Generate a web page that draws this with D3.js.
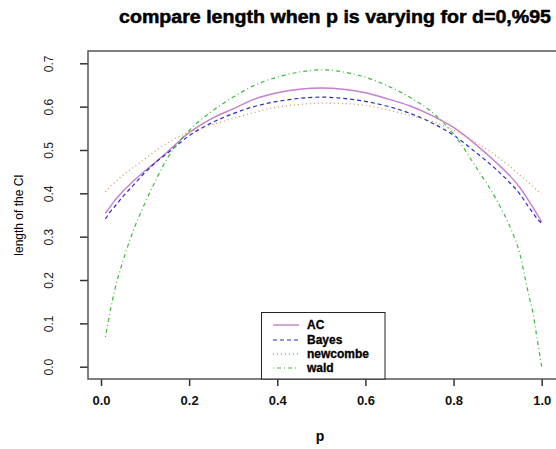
<!DOCTYPE html>
<html>
<head>
<meta charset="utf-8">
<script src="https://cdn.jsdelivr.net/npm/d3@7"></script>
<style>
  body { margin: 0; background: #fff; }
  svg { display: block; }
</style>
</head>
<body>
<svg width="556" height="449"></svg>
<script>
// p grid shared by every method
const pValues = [0.01, 0.02, 0.03, 0.05, 0.07, 0.1, 0.125, 0.15, 0.2, 0.25, 0.3, 0.35, 0.4, 0.45, 0.5,
    0.55, 0.6, 0.65, 0.7, 0.75, 0.8, 0.85, 0.9, 0.93, 0.95, 0.97, 0.98, 0.99, 1.0];

const acLen = [0.354, 0.368, 0.382, 0.405, 0.425, 0.452, 0.473, 0.495, 0.540, 0.572, 0.595, 0.618, 0.632, 0.640, 0.643,
    0.640, 0.632, 0.618, 0.602, 0.580, 0.552, 0.513, 0.468, 0.438, 0.414, 0.384, 0.368, 0.351, 0.334];
const bayesLen = [0.341, 0.356, 0.368, 0.393, 0.415, 0.448, 0.472, 0.492, 0.533, 0.562, 0.584, 0.601, 0.612, 0.619, 0.622,
    0.619, 0.612, 0.601, 0.585, 0.563, 0.534, 0.495, 0.452, 0.422, 0.399, 0.369, 0.355, 0.341, 0.331];
const newcombeLen = [0.403, 0.415, 0.424, 0.442, 0.457, 0.480, 0.499, 0.516, 0.541, 0.558, 0.573, 0.587, 0.599, 0.605, 0.608,
    0.607, 0.603, 0.593, 0.580, 0.566, 0.546, 0.518, 0.484, 0.460, 0.442, 0.425, 0.416, 0.406, 0.400];
const waldLen = [0.069, 0.123, 0.172, 0.244, 0.305, 0.378, 0.432, 0.480, 0.545, 0.588, 0.622, 0.650, 0.668, 0.680, 0.685,
    0.680, 0.668, 0.648, 0.622, 0.588, 0.537, 0.462, 0.380, 0.318, 0.262, 0.168, 0.125, 0.062, 0.0];

const methods = ['AC', 'Bayes', 'newcombe', 'wald'];
const xTicks = [0, 0.2, 0.4, 0.6, 0.8, 1.0];
const yTicks = [0, 0.1, 0.2, 0.3, 0.4, 0.5, 0.6, 0.7];

const series = [
    {name: 'AC', values: acLen, color: '#c77fcf', dash: null, width: 1.4},
    {name: 'Bayes', values: bayesLen, color: '#2b2bc4', dash: '4,3', width: 1.2},
    {name: 'newcombe', values: newcombeLen, color: '#c9a064', dash: '1,3', width: 1.3},
    {name: 'wald', values: waldLen, color: '#3dba3d', dash: '1,3,4,3', width: 1.2}
];

const svg = d3.select('svg');
const font = 'Liberation Sans, Arial, sans-serif';

// plot region
const box = {left: 88, top: 51, right: 559, bottom: 379};

const xScale = d3.scaleLinear()
    .domain([0, 1])
    .range([101, 541.7]);

const yScale = d3.scaleLinear()
    .domain([0, 0.7])
    .range([366.7, 63.3]);

// title
svg.append('text')
    .attr('x', 335)
    .attr('y', 23)
    .attr('text-anchor', 'middle')
    .attr('font-family', font)
    .attr('font-weight', 'bold')
    .attr('font-size', 18)
    .attr('stroke', '#000')
    .attr('stroke-width', 0.5)
    .attr('textLength', 432)
    .attr('lengthAdjust', 'spacingAndGlyphs')
    .text('compare length when p is varying for d=0,%95');

// x axis
let xAxis = svg.append('g')
    .attr('transform', `translate(0, ${box.bottom})`)
    .call(d3.axisBottom(xScale).tickValues(xTicks).tickSize(7).tickPadding(10).tickFormat(d3.format('.1f')));
xAxis.select('.domain').remove();
xAxis.selectAll('.tick line').attr('stroke', '#333').attr('stroke-width', 1.5);
xAxis.selectAll('.tick text')
    .attr('font-family', font)
    .attr('font-weight', 'bold')
    .attr('font-size', 13)
    .attr('fill', '#111');

// y axis
let yAxis = svg.append('g')
    .attr('transform', `translate(${box.left}, 0)`)
    .call(d3.axisLeft(yScale).tickValues(yTicks).tickSize(8).tickFormat(d3.format('.1f')));
yAxis.select('.domain').remove();
yAxis.selectAll('.tick line').attr('stroke', '#333').attr('stroke-width', 1.5);
yAxis.selectAll('.tick text').remove();
yAxis.selectAll('.tick')
    .append('text')
    .attr('transform', 'translate(-39, 0) rotate(-90)')
    .attr('text-anchor', 'middle')
    .attr('dy', '0.35em')
    .attr('font-family', font)
    .attr('font-size', 12)
    .attr('fill', '#222')
    .text(d => d3.format('.1f')(d));

// axis titles
svg.append('text')
    .attr('transform', 'translate(19, 215) rotate(-90)')
    .attr('text-anchor', 'middle')
    .attr('dy', '0.35em')
    .attr('font-family', font)
    .attr('font-size', 12)
    .text('length of the CI');

svg.append('text')
    .attr('x', 320)
    .attr('y', 441)
    .attr('text-anchor', 'middle')
    .attr('font-family', font)
    .attr('font-weight', 'bold')
    .attr('font-size', 14)
    .text('p');

// curves
const line = d3.line()
    .x((d, i) => xScale(pValues[i]))
    .y(d => yScale(d))
    .curve(d3.curveMonotoneX);

svg.append('g')
    .selectAll('path')
    .data(series)
    .join('path')
    .attr('d', s => line(s.values))
    .attr('fill', 'none')
    .attr('stroke', s => s.color)
    .attr('stroke-width', s => s.width)
    .attr('stroke-dasharray', s => s.dash);

// plot box
svg.append('rect')
    .attr('x', box.left)
    .attr('y', box.top)
    .attr('width', box.right - box.left)
    .attr('height', box.bottom - box.top)
    .attr('fill', 'none')
    .attr('stroke', '#555')
    .attr('stroke-width', 1.5);

// legend
const legend = svg.append('g');
legend.append('rect')
    .attr('x', 261.5)
    .attr('y', 312.5)
    .attr('width', 123.5)
    .attr('height', 66.5)
    .attr('fill', '#fff')
    .attr('stroke', '#222')
    .attr('stroke-width', 1);

const rowY = [325, 340, 354, 368];
legend.selectAll('line')
    .data(series)
    .join('line')
    .attr('x1', 273)
    .attr('x2', 299)
    .attr('y1', (s, i) => rowY[i])
    .attr('y2', (s, i) => rowY[i])
    .attr('stroke', s => s.color)
    .attr('stroke-width', s => s.width)
    .attr('stroke-dasharray', s => s.dash);

legend.selectAll('text')
    .data(methods)
    .join('text')
    .attr('x', 307)
    .attr('y', (d, i) => rowY[i])
    .attr('dy', '0.35em')
    .attr('font-family', font)
    .attr('font-weight', 'bold')
    .attr('font-size', 12)
    .attr('stroke', '#000')
    .attr('stroke-width', 0.3)
    .text(d => d);
</script>
</body>
</html>
